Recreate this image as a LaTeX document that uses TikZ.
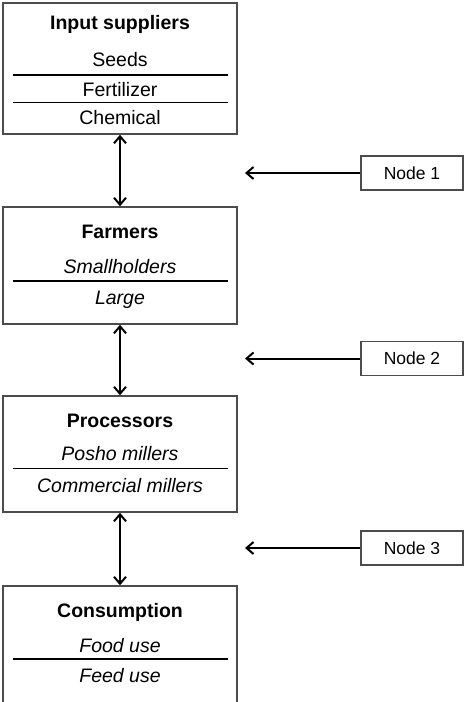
\documentclass[tikz,border=0pt]{standalone}
\usepackage{fontspec}
\setmainfont{Liberation Sans}
\usetikzlibrary{arrows.meta}
\begin{document}
\begin{tikzpicture}[x=1pt,y=-1pt,
  box/.style={draw=black!70,line width=1.5pt,minimum width=234pt,inner sep=0pt,fill=white},
  nodebox/.style={draw=black!70,line width=1.2pt,minimum width=102pt,minimum height=34pt,inner sep=0pt,font=\fontsize{17.5}{17.5}\selectfont},
  ttl/.style={font=\fontsize{19.5}{19.5}\selectfont\bfseries,inner sep=0pt,anchor=base},
  itm/.style={font=\fontsize{19.5}{19.5}\selectfont,inner sep=0pt,anchor=base},
  itmi/.style={font=\fontsize{19.5}{19.5}\selectfont\itshape,inner sep=0pt,anchor=base},
  thick sep/.style={line width=2.2pt,black},
  thin sep/.style={line width=1pt,black},
  link/.style={line width=2pt,{Straight Barb[length=7pt,width=12pt,line width=2pt]}-{Straight Barb[length=7pt,width=12pt,line width=2pt]}},
  point/.style={line width=2pt,{Straight Barb[length=7pt,width=12pt,line width=2pt]}-}
]
\useasboundingbox (0,0) rectangle (464,702);
% main boxes
\node[box,minimum height=131pt] (b1) at (120,68.5) {};
\node[box,minimum height=117pt] (b2) at (120,265.5) {};
\node[box,minimum height=116pt] (b3) at (120,454) {};
\node[box,minimum height=124pt] (b4) at (120,648) {};
% box 1 texts
\node[ttl] (t1) at (120,29) {Input suppliers};
\node[itm] (s1) at (120,66) {Seeds};
\node[itm] (f1) at (120,96) {Fertilizer};
\node[itm] (c1) at (120,124) {Chemical};
\draw[thick sep] (13,75) -- (228,75);
\draw[thin sep] (13,102) -- (228,102);
% box 2 texts
\node[ttl] (t2) at (120,238) {Farmers};
\node[itmi] (s2) at (120,273.5) {Smallholders};
\node[itmi] (l2) at (120,304) {Large};
\draw[thick sep] (13,281) -- (228,281);
% box 3 texts
\node[ttl] (t3) at (120,427) {Processors};
\node[itmi] (p3) at (120,460) {Posho millers};
\node[itmi] (c3) at (120,492) {Commercial millers};
\draw[thin sep] (13,468) -- (228,468);
% box 4 texts
\node[ttl] (t4) at (120,617) {Consumption};
\node[itmi] (f4) at (120,652) {Food use};
\node[itmi] (e4) at (120,682) {Feed use};
\draw[thick sep] (13,659) -- (228,659);
% vertical links
\draw[link] (b1.south) -- (b2.north);
\draw[link] (b2.south) -- (b3.north);
\draw[link] (b3.south) -- (b4.north);
% side nodes
\node[nodebox] (n1) at (412,173) {Node 1};
\node[nodebox] (n2) at (412,358.5) {Node 2};
\node[nodebox] (n3) at (412,548) {Node 3};
\coordinate (a1) at (245,173);
\coordinate (a2) at (245,358.5);
\coordinate (a3) at (245,548);
\draw[point] (a1) -- (n1.west);
\draw[point] (a2) -- (n2.west);
\draw[point] (a3) -- (n3.west);
\end{tikzpicture}
\end{document}
